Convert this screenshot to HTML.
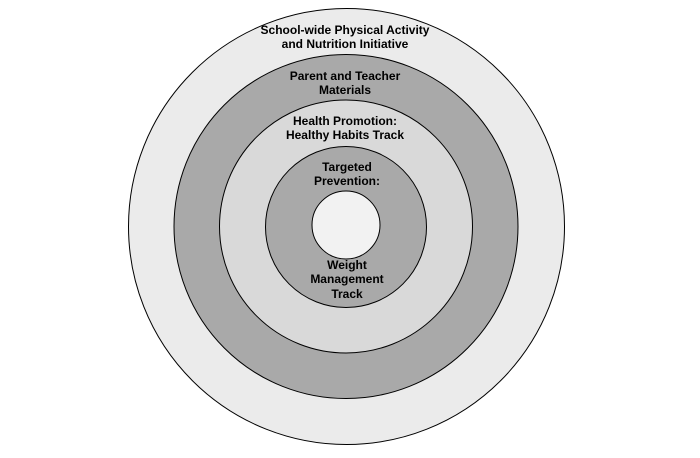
<!DOCTYPE html>
<html><head><meta charset="utf-8"><style>
html,body{margin:0;padding:0;background:#fff;}
svg{display:block;}
text{font-family:"Liberation Sans",Arial,sans-serif;font-weight:bold;font-size:12px;fill:#000;text-anchor:middle;}
</style></head><body>
<svg width="700" height="458" viewBox="0 0 700 458" xmlns="http://www.w3.org/2000/svg">
<circle cx="346.5" cy="226.5" r="218" fill="#ebebeb" stroke="#000" stroke-width="1"/>
<circle cx="346" cy="226.5" r="172" fill="#a9a9a9" stroke="#000" stroke-width="1"/>
<circle cx="346" cy="226.5" r="126.5" fill="#d9d9d9" stroke="#000" stroke-width="1"/>
<circle cx="346" cy="227" r="80.5" fill="#a9a9a9" stroke="#000" stroke-width="1"/>
<circle cx="346" cy="225" r="34" fill="#f2f2f2" stroke="#000" stroke-width="1"/>
<text x="345" y="34">School-wide Physical Activity</text>
<text x="345" y="48">and Nutrition Initiative</text>
<text x="345" y="80">Parent and Teacher</text>
<text x="345" y="94">Materials</text>
<text x="345" y="125">Health Promotion:</text>
<text x="345" y="139">Healthy Habits Track</text>
<text x="347" y="171">Targeted</text>
<text x="347" y="185">Prevention:</text>
<text x="347" y="269">Weight</text>
<text x="347" y="283">Management</text>
<text x="347" y="298">Track</text>
</svg>
</body></html>
